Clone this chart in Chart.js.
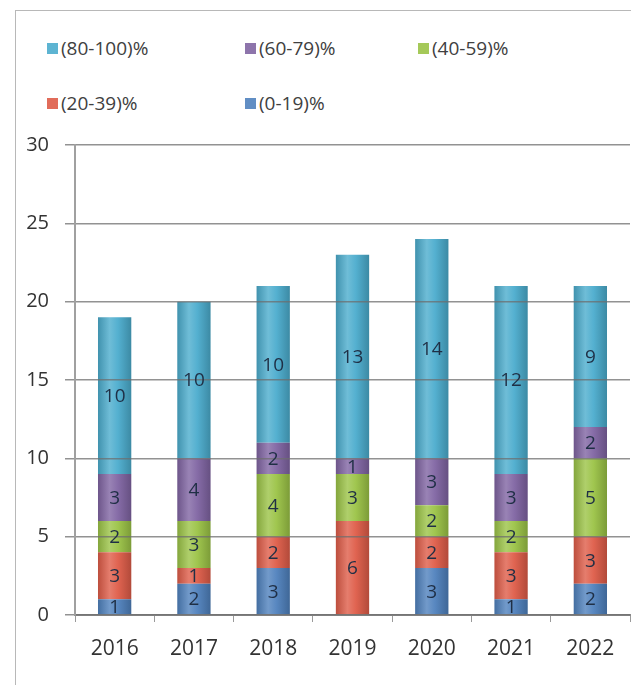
<!DOCTYPE html>
<html>
<head>
<meta charset="utf-8">
<script src="https://cdn.jsdelivr.net/npm/chart.js@4/dist/chart.umd.min.js"></script>
<style>
  html, body { margin: 0; padding: 0; background: #fff; }
  #wrap { position: relative; width: 631px; height: 685px; overflow: hidden; }
  #frame { position: absolute; left: 15px; top: 10px; right: -5px; bottom: -5px; border-left: 1px solid #b8b8b8; border-top: 1px solid #b8b8b8; }
  #legend { position: absolute; left: 0; top: 0; width: 631px; font-family: "Open Sans", "Liberation Sans", sans-serif; font-size: 19px; color: #404040; }
  .item { position: absolute; display: flex; align-items: center; white-space: nowrap; }
  .box { width: 11px; height: 11px; margin-right: 3px; }
  canvas { position: absolute; left: 0; top: 0; }
</style>
</head>
<body>
<div id="wrap">
  <div id="frame"></div>
  <div id="legend"></div>
  <canvas id="chart" width="631" height="685"></canvas>
</div>
<script>
const years = ['2016', '2017', '2018', '2019', '2020', '2021', '2022']
const range0to19 = [1, 2, 3, 0, 3, 1, 2]
const range20to39 = [3, 1, 2, 6, 2, 3, 3]
const range40to59 = [2, 3, 4, 3, 2, 2, 5]
const range60to79 = [3, 4, 2, 1, 3, 3, 2]
const range80to100 = [10, 10, 10, 13, 14, 12, 9]
const yTicks = [0, 5, 10, 15, 20, 25, 30]

const series = [
  { label: '(0-19)%', data: range0to19, base: [79, 129, 189] },
  { label: '(20-39)%', data: range20to39, base: [222, 92, 72] },
  { label: '(40-59)%', data: range40to59, base: [155, 195, 70] },
  { label: '(60-79)%', data: range60to79, base: [128, 100, 162] },
  { label: '(80-100)%', data: range80to100, base: [75, 172, 205] }
]

// legend slots, drawn in the order of the original
const legendSlots = [
  { label: '(80-100)%', left: 47, top: 35 },
  { label: '(60-79)%', left: 245, top: 35 },
  { label: '(40-59)%', left: 418, top: 35 },
  { label: '(20-39)%', left: 47, top: 90 },
  { label: '(0-19)%', left: 245, top: 90 }
]

const shade = (c, f) => `rgb(${c.map(v => Math.max(0, Math.min(255, Math.round(f > 0 ? v + (255 - v) * f : v * (1 + f))))).join(',')})`

const legend = document.getElementById('legend')
legendSlots.forEach(s => {
  const ser = series.find(d => d.label === s.label)
  const el = document.createElement('div')
  el.className = 'item'
  el.style.left = s.left + 'px'
  el.style.top = s.top + 'px'
  el.innerHTML = `<span class="box" style="background:${shade(ser.base, 0.1)}"></span><span>${s.label}</span>`
  legend.appendChild(el)
})

const BAR_PCT = 0.42

function barFill(ctx, base) {
  const chart = ctx.chart
  const x = chart.scales && chart.scales.x
  if (!x || ctx.dataIndex === undefined) return shade(base, 0)
  const cx = x.getPixelForValue(ctx.dataIndex)
  const w = (x.width / years.length) * BAR_PCT
  if (!isFinite(cx) || !isFinite(w) || w <= 0) return shade(base, 0)
  const g = chart.ctx.createLinearGradient(cx - w / 2, 0, cx + w / 2, 0)
  g.addColorStop(0, shade(base, -0.15))
  g.addColorStop(0.35, shade(base, 0.2))
  g.addColorStop(0.6, shade(base, 0.05))
  g.addColorStop(1, shade(base, -0.2))
  return g
}

// numbers in the middle of each segment, drawn last so grid lines stay under them
const segmentLabels = {
  id: 'segmentLabels',
  afterDraw(chart) {
    const { ctx } = chart
    ctx.save()
    ctx.font = '19px "Open Sans", "Liberation Sans", sans-serif'
    ctx.fillStyle = '#1f2f45'
    ctx.textAlign = 'center'
    ctx.textBaseline = 'middle'
    chart.data.datasets.forEach((ds, i) => {
      chart.getDatasetMeta(i).data.forEach((bar, j) => {
        const v = ds.data[j]
        if (!v) return
        ctx.fillText(String(v), bar.x, (bar.y + bar.base) / 2 + 1)
      })
    })
    ctx.restore()
  }
}

const tickFont = { family: '"Open Sans", "Liberation Sans", sans-serif' }

new Chart(document.getElementById('chart'), {
  type: 'bar',
  data: {
    labels: years,
    datasets: series.map(s => ({
      label: s.label,
      data: s.data,
      backgroundColor: ctx => barFill(ctx, s.base),
      borderWidth: 0,
      barPercentage: BAR_PCT,
      categoryPercentage: 1
    }))
  },
  options: {
    responsive: false,
    animation: false,
    layout: { padding: { top: 145, left: 0, right: 1, bottom: 0 } },
    plugins: { legend: { display: false }, tooltip: { enabled: false } },
    scales: {
      x: {
        stacked: true,
        grid: { display: true, drawOnChartArea: false, offset: true, tickLength: 7, color: '#9a9a9a' },
        border: { display: true, color: '#8a8a8a', width: 2 },
        ticks: { color: '#333', font: { ...tickFont, size: 21 }, padding: 14 },
        afterFit: s => { s.height = 70 }
      },
      y: {
        stacked: true,
        min: 0,
        max: 30,
        afterBuildTicks: s => { s.ticks = yTicks.map(v => ({ value: v })) },
        grid: { color: 'rgba(110,110,110,0.75)', lineWidth: 1.5, tickLength: 10, z: 1 },
        border: { display: true, color: '#a0a0a0', width: 2, z: 1 },
        ticks: { color: '#333', font: { ...tickFont, size: 20 }, padding: 16 },
        afterFit: s => { s.width = 75 }
      }
    }
  },
  plugins: [segmentLabels]
})
</script>
</body>
</html>
